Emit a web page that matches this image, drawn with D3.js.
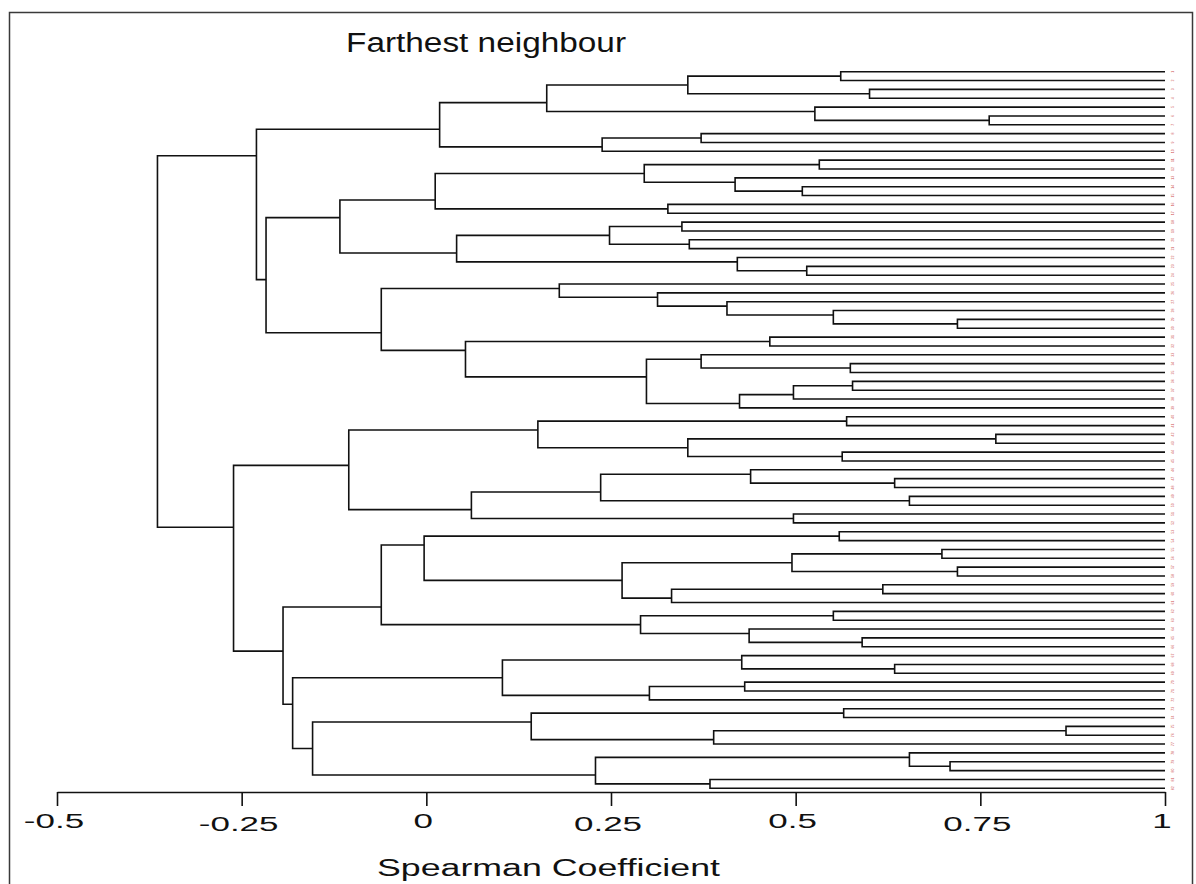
<!DOCTYPE html>
<html>
<head>
<meta charset="utf-8">
<script src="https://cdn.jsdelivr.net/npm/d3@7"></script>
<style>
  body { margin: 0; background: #fff; }
  svg { display: block; font-family: "Liberation Sans", Arial, sans-serif; }
  .link { fill: none; stroke: #111; stroke-width: 1.6; }
</style>
</head>
<body>
<svg id="chart" width="1196" height="884"></svg>
<script>
const title = "Farthest neighbour";
const axisTitle = "Spearman Coefficient";
const tickValues = [-0.5, -0.25, 0, 0.25, 0.5, 0.75, 1];
const tickLabels = ["-0.5", "-0.25", "0", "0.25", "0.5", "0.75", "1"];
const leafCount = 82;

// agglomeration steps, upper child first: negative = leaf (display order), positive = earlier step
const merges = [
    [-1, -2], [-3, -4], [1, 2], [-6, -7], [-5, 4], [3, 5], [-8, -9], [7, -10], [6, 8],
    [-11, -12], [-14, -15], [-13, 11], [10, 12], [-16, -17], [13, 14], [-18, -19], [-20, -21],
    [16, 17], [-23, -24], [-22, 19], [18, 20], [15, 21],
    [-29, -30], [-28, 23], [-27, 24], [-26, 25], [-25, 26], [-31, -32], [-34, -35], [-33, 29],
    [-36, -37], [31, -38], [32, -39], [30, 33], [28, 34], [27, 35], [22, 36], [9, 37],
    [-40, -41], [-42, -43], [-44, -45], [40, 41], [39, 42], [-47, -48], [-46, 44], [-49, -50],
    [45, 46], [-51, -52], [47, 48], [43, 49],
    [-53, -54], [-55, -56], [-57, -58], [52, 53], [-59, -60], [55, -61], [54, 56], [51, 57],
    [-62, -63], [-65, -66], [-64, 60], [59, 61], [58, 62],
    [-68, -69], [-67, 64], [-70, -71], [66, -72], [65, 67],
    [-73, -74], [-75, -76], [70, -77], [69, 71], [-79, -80], [-78, 73], [-81, -82], [74, 75],
    [72, 76], [68, 77], [63, 78], [50, 79], [38, 80]
];
// Spearman coefficient at each step
const heights = [
    0.561, 0.600, 0.354, 0.762, 0.526, 0.163, 0.372, 0.238, 0.018,
    0.532, 0.509, 0.418, 0.295, 0.327, 0.012, 0.346, 0.356,
    0.248, 0.515, 0.421, 0.041, -0.117,
    0.719, 0.551, 0.407, 0.313, 0.180, 0.465, 0.574, 0.372,
    0.577, 0.497, 0.424, 0.298, 0.053, -0.061, -0.217, -0.230,
    0.569, 0.771, 0.563, 0.354, 0.151, 0.634, 0.439, 0.654,
    0.236, 0.497, 0.061, -0.105,
    0.559, 0.698, 0.719, 0.495, 0.618, 0.332, 0.265, -0.003,
    0.551, 0.590, 0.437, 0.290, -0.061,
    0.634, 0.427, 0.431, 0.302, 0.103,
    0.565, 0.866, 0.389, 0.142, 0.709, 0.654, 0.384, 0.229,
    -0.154, -0.181, -0.194, -0.261, -0.364
];
const leafNames = d3.range(1, leafCount + 1).map(String);

const svg = d3.select("#chart");

// frame
svg.append("rect")
    .attr("x", 9.5).attr("y", 12.5)
    .attr("width", 1183).attr("height", 900)
    .attr("fill", "none")
    .attr("stroke", "#3a3a3a")
    .attr("stroke-width", 1.5);

const x = d3.scaleLinear().domain([-0.5, 1]).range([57, 1165]);
const y = d3.scaleLinear().domain([1, leafCount]).range([71.7, 788.3]);

// build tree from the merge list
const steps = [];
merges.forEach((m, i) => {
    const kids = m.map(k => k < 0 ? { leaf: -k, h: 1 } : steps[k - 1]);
    steps.push({ h: heights[i], children: kids });
});
const root = d3.hierarchy(steps[steps.length - 1]);

// node sits at the gap between its two child groups
root.eachAfter(n => {
    if (!n.children) {
        n.yPos = y(n.data.leaf);
    } else {
        const a = n.children[0].leaves(), b = n.children[1].leaves();
        n.yPos = (y(a[a.length - 1].data.leaf) + y(b[0].data.leaf)) / 2;
    }
});

svg.append("g")
    .selectAll("path")
    .data(root.descendants().filter(d => d.children))
    .join("path")
    .attr("class", "link")
    .attr("d", d => {
        const [c0, c1] = d.children;
        return "M" + x(c0.data.h) + "," + c0.yPos
            + "H" + x(d.data.h)
            + "V" + c1.yPos
            + "H" + x(c1.data.h);
    });

// tiny leaf labels
svg.append("g")
    .selectAll("text")
    .data(root.leaves())
    .join("text")
    .attr("transform", d => "translate(1173," + d.yPos + ") rotate(-90)")
    .attr("text-anchor", "middle")
    .attr("dy", "0.35em")
    .attr("font-size", 3.5)
    .attr("fill", "#cc4a4a")
    .text(d => leafNames[d.data.leaf - 1]);

// axis
const xAxis = d3.axisBottom(x)
    .tickValues(tickValues)
    .tickSize(14)
    .tickSizeOuter(0)
    .tickFormat("");

const gAxis = svg.append("g")
    .attr("transform", "translate(0,792)")
    .call(xAxis);
gAxis.select(".domain").attr("stroke", "#111").attr("stroke-width", 1.6);
gAxis.selectAll(".tick line").attr("stroke", "#111").attr("stroke-width", 1.6);

svg.append("g")
    .selectAll("text")
    .data(tickValues)
    .join("text")
    .attr("transform", (d, i) => "translate(" + (x(d) - 3) + "," + (i % 2 ? 831 : 828) + ") scale(1.75,1)")
    .attr("text-anchor", "middle")
    .attr("font-size", 20)
    .attr("fill", "#111")
    .text((d, i) => tickLabels[i]);

svg.append("text")
    .attr("x", 377).attr("y", 876)
    .attr("font-size", 23)
    .attr("textLength", 343)
    .attr("lengthAdjust", "spacingAndGlyphs")
    .attr("fill", "#111")
    .text(axisTitle);

svg.append("text")
    .attr("x", 346).attr("y", 52)
    .attr("font-size", 27)
    .attr("textLength", 280)
    .attr("lengthAdjust", "spacingAndGlyphs")
    .attr("fill", "#111")
    .text(title);
</script>
</body>
</html>
